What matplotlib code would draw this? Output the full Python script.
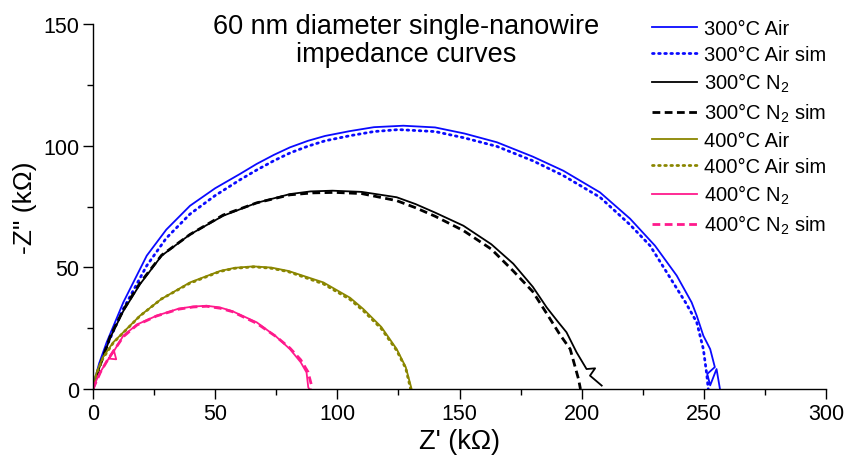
import matplotlib
matplotlib.use("Agg")
import matplotlib.pyplot as plt

plt.rcParams['font.family'] = ['Liberation Sans', 'DejaVu Sans']
plt.rcParams['mathtext.fontset'] = 'custom'
plt.rcParams['mathtext.rm'] = 'Liberation Sans'
plt.rcParams['mathtext.it'] = 'Liberation Sans:italic'

# ---- data (kOhm) ----
air300_x = [0, 0.8, 2.5, 5.6, 12.4, 22, 30, 39.7, 50, 60.2, 67, 74, 80.6, 88, 95, 105.2, 115, 127,
            140, 152, 165.3, 180, 192.5, 207.5, 219.8, 230, 238.9, 245, 247.1, 249.8, 252.6,
            254.5, 251.4, 252.6, 255.2, 256.6]
air300_y = [0, 4.1, 10.5, 19.2, 35.6, 54.8, 65.5, 75.3, 82.5, 88.4, 92.5, 96.2, 99.3, 102, 104, 106, 107.6, 108.2,
            107.5, 105, 101.4, 95.5, 89.7, 80.8, 70, 58.9, 46.6, 35.6, 30.1, 21.9, 16.4,
            9, 6.2, 1.5, 8.2, 0]

air300sim_x = [0, 1, 3, 6, 12.4, 22, 30, 39.7, 50, 60.2, 67, 74, 80.6, 88, 95, 105.2, 115, 125,
               140, 152, 165.3, 180, 192.5, 207.5, 219.8, 228, 238.2, 242.5, 247.1, 249.8, 251.2, 251.8]
air300sim_y = [0, 4, 10.5, 18.5, 32.9, 50.7, 62, 71.9, 79.5, 86, 90, 93.8, 97, 99.8, 102, 104.1, 105.8, 106.6,
               105.8, 103.2, 99.7, 93.8, 87.7, 78.8, 67.5, 58.9, 42.5, 35.6, 27.4, 16.4, 6, 0]

n2300_x = [0, 1, 3, 7, 12.4, 19.2, 28.1, 39.7, 53.3, 67, 80.6, 89, 98, 110, 124.3, 132, 140, 151.6,
           163, 172, 180, 185.7, 190, 193.8, 197.9, 202, 205.5, 203.4, 208.2]
n2300_y = [0, 3.5, 10, 21, 32, 43, 54.8, 63.5, 71.2, 76.5, 80.1, 81.2, 81.5, 81, 78.8, 76, 72.5, 67.1,
           59.5, 51.5, 42, 33.5, 28, 23.3, 15.1, 8.2, 8.5, 5.5, 1.4]

n2300sim_x = [0, 1, 3, 7, 12.4, 19.2, 28.1, 39.7, 53.3, 67, 80.6, 90, 99, 110, 124.3, 132, 140, 151.6,
              163, 172, 180, 185.7, 191, 195.3, 198.7, 199.5]
n2300sim_y = [0, 3.5, 10, 21.5, 32.5, 43.5, 55, 63.5, 71.5, 76.5, 79.8, 80.6, 80.8, 80.3, 77.4, 74.5, 71, 65.1,
              57.5, 48.5, 40, 31, 22.5, 16.4, 4.1, 0]

air400_x = [0, 1.5, 4, 8.3, 19.2, 28, 39.7, 52, 58, 65.6, 73, 80, 94.3, 105.2, 110.6, 118, 124.3, 128, 130.4]
air400_y = [0, 6.8, 13, 19.2, 30.1, 37, 43.8, 48.5, 49.8, 50.4, 49.9, 48.5, 43.8, 37.5, 32.9, 25.5, 16.4, 9, 0]

air400sim_x = [0, 1.5, 4, 8.3, 19.2, 28, 39.7, 52, 58, 66, 73, 80, 94.3, 105.2, 110.6, 118, 124.3, 128, 130]
air400sim_y = [0, 6.5, 12.5, 19, 30, 37, 43.5, 48.3, 49.6, 50.2, 49.6, 48.2, 43.2, 36.8, 32.2, 24.8, 15.8, 8.5, 0]

n2400_x = [0, 0.4, 2.9, 5.5, 8.5, 9.5, 6.5, 8.5, 12.4, 18, 26, 35, 41, 46.5, 52, 57, 67, 75, 80.6, 85, 87.4, 88.1, 88.5]
n2400_y = [0, 1.5, 6.8, 11, 16, 12.2, 12.5, 15.5, 21.9, 26.5, 30.1, 33, 33.9, 34.2, 33.5, 32, 27.4, 21.5, 16.4, 11, 6.8, 0.7, 0]

n2400sim_x = [0, 3, 6, 12.4, 18, 26, 35, 41, 46.5, 52, 57, 67, 75, 80.6, 85, 88, 89.3, 89]
n2400sim_y = [0, 6.8, 12, 21.5, 26.3, 30, 32.8, 33.7, 34, 33.2, 31.8, 27, 21.5, 16.8, 12, 7, 2, 0]

BLUE = '#0a0aff'
OLIVE = '#8a8600'
PINK = '#ff1a8c'

fig = plt.figure(figsize=(8.46, 4.64), dpi=100)
ax = fig.add_axes([93/846, 74/464, 733/846, 365/464])

lw = 1.3
ax.plot(air300_x, air300_y, color=BLUE, lw=lw, label='300°C Air')
ax.plot(air300sim_x, air300sim_y, color=BLUE, lw=2.0, ls=(0, (0.6, 1.6)), dash_capstyle='round', label='300°C Air sim')
ax.plot(n2300_x, n2300_y, color='black', lw=lw, label='300°C N$_2$')
ax.plot(n2300sim_x, n2300sim_y, color='black', lw=2.0, ls=(0, (2.8, 1.6)), label='300°C N$_2$ sim')
ax.plot(air400_x, air400_y, color=OLIVE, lw=lw, label='400°C Air')
ax.plot(air400sim_x, air400sim_y, color=OLIVE, lw=2.0, ls=(0, (0.6, 1.6)), dash_capstyle='round', label='400°C Air sim')
ax.plot(n2400_x, n2400_y, color=PINK, lw=lw, label='400°C N$_2$')
ax.plot(n2400sim_x, n2400sim_y, color=PINK, lw=2.0, ls=(0, (2.8, 1.6)), label='400°C N$_2$ sim')

ax.set_xlim(0, 300)
ax.set_ylim(0, 150)
ax.set_xticks([0, 50, 100, 150, 200, 250, 300])
ax.set_yticks([0, 50, 100, 150])
ax.set_xticks(range(25, 300, 50), minor=True)
ax.set_yticks([25, 75, 125], minor=True)
for s in ['top', 'right']:
    ax.spines[s].set_visible(False)
for s in ['left', 'bottom']:
    ax.spines[s].set_linewidth(1.0)
ax.tick_params(axis='both', which='major', direction='out', length=7, width=1.0, labelsize=15.5, pad=3)
ax.tick_params(axis='both', which='minor', direction='out', length=4, width=1.0)
ax.set_xlabel("Z' (kΩ)", fontsize=19.5, labelpad=3)
ax.set_ylabel('-Z" (kΩ)', fontsize=19, labelpad=4)

ax.text(0.427, 0.957, '60 nm diameter single-nanowire\nimpedance curves',
        transform=ax.transAxes, ha='center', va='center', fontsize=19.5, linespacing=1.1)

leg = ax.legend(loc='upper left', bbox_to_anchor=(652/846, 1 - 20/464), bbox_transform=fig.transFigure,
                frameon=False, fontsize=14.5, handlelength=2.25, handletextpad=0.35,
                labelspacing=0.34, borderpad=0, borderaxespad=0)

fig.savefig('out.png', dpi=100)
